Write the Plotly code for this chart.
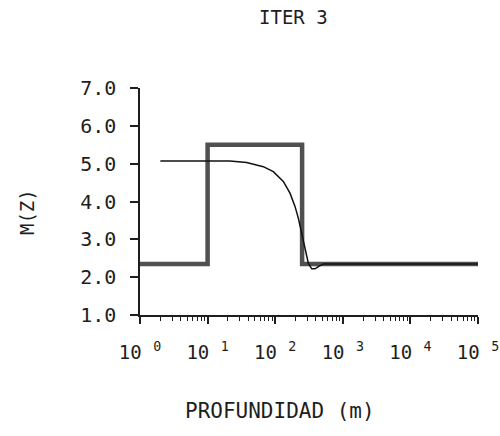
import plotly.graph_objects as go

# Model (thick step line): depth (m) and M(Z)
model_depth = [1, 10, 10, 250, 250, 100000]
model_value = [2.35, 2.35, 5.5, 5.5, 2.35, 2.35]

# Inverted curve (thin line)
curve_depth = [2.0, 10, 21.4, 37.8, 66.7, 93.8, 131.8, 165.6, 196.3, 219.8,
               246.6, 276.1, 309, 346.7, 388.1, 434.5, 515, 100000]
curve_value = [5.07, 5.08, 5.07, 5.03, 4.92, 4.79, 4.53, 4.22, 3.87, 3.56,
               3.16, 2.72, 2.37, 2.22, 2.22, 2.28, 2.35, 2.35]

y_ticks = [1, 2, 3, 4, 5, 6, 7]
y_labels = ["1.0", "2.0", "3.0", "4.0", "5.0", "6.0", "7.0"]
x_ticks = [1, 10, 100, 1000, 10000, 100000]
x_labels = ["10 <sup>0</sup>", "10 <sup>1</sup>", "10 <sup>2</sup>",
            "10 <sup>3</sup>", "10 <sup>4</sup>", "10 <sup>5</sup>"]

FONT = "DejaVu Sans Mono"
INK = "#1e1e1e"

fig = go.Figure()
fig.add_trace(go.Scatter(x=model_depth, y=model_value, mode="lines",
                         line=dict(color="#505050", width=4.5),
                         showlegend=False, hoverinfo="skip"))
fig.add_trace(go.Scatter(x=curve_depth, y=curve_value, mode="lines",
                         line=dict(color="#111111", width=1.5),
                         showlegend=False))

fig.update_layout(
    width=500, height=436,
    margin=dict(l=140, r=22, t=88, b=121, autoexpand=False),
    paper_bgcolor="white", plot_bgcolor="white",
    font=dict(family=FONT, size=18, color=INK),
    xaxis=dict(type="log", range=[0, 5], showgrid=False, zeroline=False,
               automargin=False,
               showline=True, linecolor=INK, linewidth=1.5,
               ticks="outside", ticklen=7, tickwidth=1.5, tickcolor=INK,
               tickvals=x_ticks, ticktext=x_labels, ticklabelstandoff=12,
               tickfont=dict(family=FONT, size=19, color=INK),
               minor=dict(ticks="outside", ticklen=4, tickwidth=1,
                          tickcolor=INK, dtick="D1", showgrid=False)),
    yaxis=dict(range=[1, 7], showgrid=False, zeroline=False,
               automargin=False,
               showline=True, linecolor=INK, linewidth=1.5,
               ticks="outside", ticklen=8, tickwidth=1.5, tickcolor=INK,
               tickvals=y_ticks, ticktext=y_labels, ticklabelstandoff=10,
               tickfont=dict(family=FONT, size=20, color=INK)),
    annotations=[
        dict(text="ITER 3", x=0.453, y=1.311, xref="paper", yref="paper",
             xanchor="center", yanchor="middle",
             showarrow=False, font=dict(family=FONT, size=19, color=INK)),
        dict(text="PROFUNDIDAD (m)", x=0.414, y=-0.423, xref="paper", yref="paper",
             xanchor="center", yanchor="middle",
             showarrow=False, font=dict(family=FONT, size=21, color=INK)),
        dict(text="M(Z)", x=-0.334, y=0.454, xref="paper", yref="paper",
             xanchor="center", yanchor="middle",
             showarrow=False, textangle=-90,
             font=dict(family=FONT, size=19, color=INK)),
    ],
)

fig.write_html("out.html")
